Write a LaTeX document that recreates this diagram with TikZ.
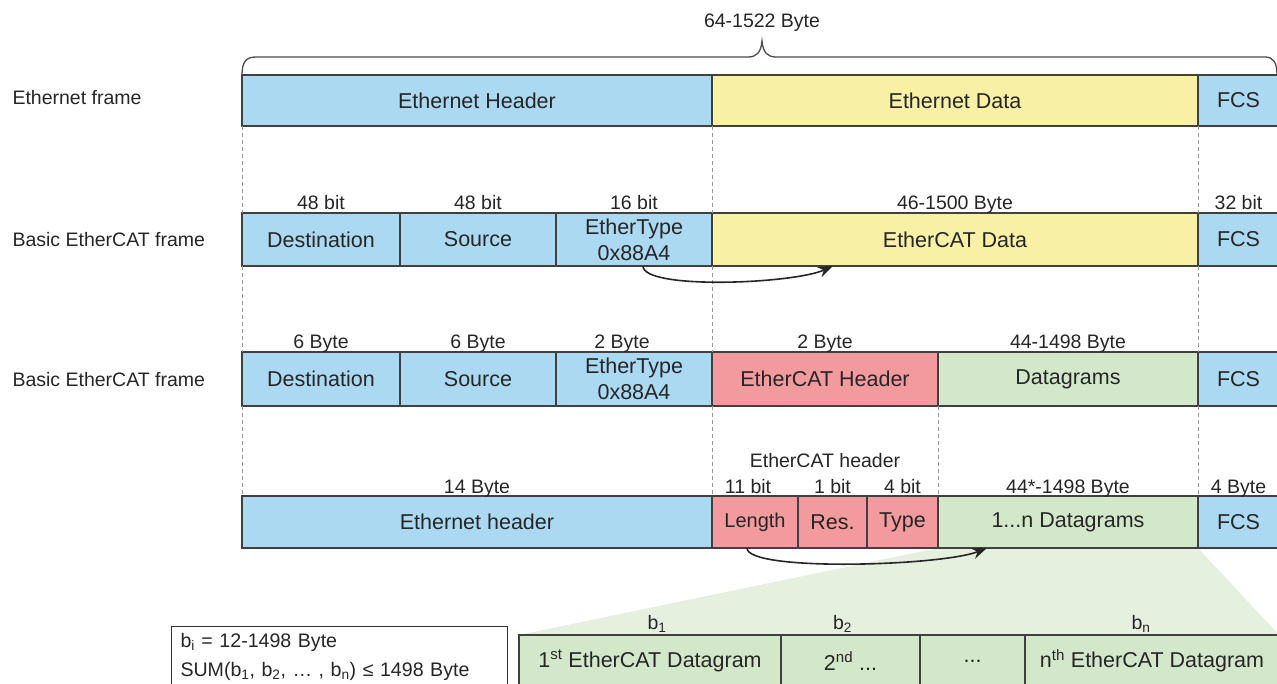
\documentclass[tikz,border=0pt]{standalone}
\usepackage{fontspec}
\setmainfont{Liberation Sans}
\usepackage{tikz}
\usetikzlibrary{arrows.meta,backgrounds}

\definecolor{hdrblue}{HTML}{ACD9F2}
\definecolor{datayellow}{HTML}{F7F0A5}
\definecolor{ecatred}{HTML}{F29A9D}
\definecolor{dgrgreen}{HTML}{D3E8CB}
\definecolor{zoomgreen}{HTML}{E5F0DF}
\definecolor{edgegray}{HTML}{404040}

\newcommand{\fldfont}{\fontsize{21.5}{26}\selectfont}
\newcommand{\smfont}{\fontsize{20}{22}\selectfont}
\newcommand{\lblfont}{\fontsize{19.5}{21}\selectfont}
\newcommand{\notefont}{\fontsize{19.6}{29}\selectfont}

\tikzset{
  fld/.style={draw=edgegray, line width=1.3pt, anchor=north west, inner sep=0pt,
    outer sep=0pt, align=center, font=\fldfont, text=black!85},
  lbl/.style={anchor=base, yshift=3pt, font=\lblfont, text=black!85},
  rowlbl/.style={anchor=west, font=\lblfont, text=black!85},
  guide/.style={draw=gray!80, line width=0.8pt, dash pattern=on 4pt off 3pt},
  flow/.style={draw=black!85, line width=1.6pt, -{Stealth[length=15pt,width=11pt]}},
  notebox/.style={draw=black!80, line width=1pt, fill=white, anchor=north west,
    align=left, text width=318pt, inner xsep=9pt, inner ysep=7pt, font=\notefont,
    text=black!85}
}

\begin{document}
\begin{tikzpicture}[x=1pt, y=-1pt]
  \useasboundingbox (0,0) rectangle (1277,684);
  \clip (0,0) rectangle (1277,684);

  \node[rowlbl] (lab1) at (9,98) {Ethernet frame};
  \node[rowlbl] (lab2) at (9,240) {Basic EtherCAT frame};
  \node[rowlbl] (lab3) at (9,380) {Basic EtherCAT frame};

  \node[fld, fill=hdrblue, minimum width=470pt, minimum height=51pt] (hdr1) at (242,75) {Ethernet Header};
  \node[fld, fill=datayellow, minimum width=486pt, minimum height=51pt] (dat1) at (712,75) {Ethernet Data};
  \node[fld, fill=hdrblue, minimum width=81pt, minimum height=51pt] (fcs1) at (1198,75) {FCS};

  \node[fld, fill=hdrblue, minimum width=158pt, minimum height=53pt] (dst2) at (242,213) {Destination};
  \node[fld, fill=hdrblue, minimum width=156pt, minimum height=53pt] (src2) at (400,213) {Source};
  \node[fld, fill=hdrblue, minimum width=156pt, minimum height=53pt] (type2) at (556,213) {EtherType\\0x88A4};
  \node[fld, fill=datayellow, minimum width=486pt, minimum height=53pt] (data2) at (712,213) {EtherCAT Data};
  \node[fld, fill=hdrblue, minimum width=81pt, minimum height=53pt] (fcs2) at (1198,213) {FCS};

  \node[fld, fill=hdrblue, minimum width=158pt, minimum height=54pt] (dst3) at (242,352) {Destination};
  \node[fld, fill=hdrblue, minimum width=156pt, minimum height=54pt] (src3) at (400,352) {Source};
  \node[fld, fill=hdrblue, minimum width=156pt, minimum height=54pt] (type3) at (556,352) {EtherType\\0x88A4};
  \node[fld, fill=ecatred, minimum width=226pt, minimum height=54pt] (ech3) at (712,352) {EtherCAT Header};
  \node[fld, fill=dgrgreen, minimum width=260pt, minimum height=54pt] (dgr3) at (938,352) {Datagrams};
  \node[fld, fill=hdrblue, minimum width=81pt, minimum height=54pt] (fcs3) at (1198,352) {FCS};

  \node[fld, fill=hdrblue, minimum width=470pt, minimum height=52pt] (eth4) at (242,496) {Ethernet header};
  \node[fld, fill=ecatred, minimum width=86pt, minimum height=52pt, font=\smfont] (len4) at (712,496) {Length};
  \node[fld, fill=ecatred, minimum width=69pt, minimum height=52pt] (res4) at (798,496) {Res.};
  \node[fld, fill=ecatred, minimum width=71pt, minimum height=52pt] (typ4) at (867,496) {Type};
  \node[fld, fill=dgrgreen, minimum width=260pt, minimum height=52pt] (dgr4) at (938,496) {1...n Datagrams};
  \node[fld, fill=hdrblue, minimum width=81pt, minimum height=52pt] (fcs4) at (1198,496) {FCS};

  \node[fld, fill=dgrgreen, minimum width=262pt, minimum height=52pt] (d15) at (519,635) {1\textsuperscript{st} EtherCAT Datagram};
  \node[fld, fill=dgrgreen, minimum width=139pt, minimum height=52pt] (d25) at (781,635) {2\textsuperscript{nd} ...};
  \node[fld, fill=dgrgreen, minimum width=105pt, minimum height=52pt] (d35) at (920,635) {...};
  \node[fld, fill=dgrgreen, minimum width=254pt, minimum height=52pt] (dn5) at (1025,635) {n\textsuperscript{th} EtherCAT Datagram};

  \node[notebox] (note) at (171,626) {b\textsubscript{i} = 12-1498 Byte\\SUM(b\textsubscript{1}, b\textsubscript{2}, … , b\textsubscript{n}) ≤ 1498 Byte};

  \begin{scope}[on background layer]
    \fill[zoomgreen] (dgr4.south west) -- (dgr4.south east) -- (dn5.north east) -- (d15.north west) -- cycle;
  \end{scope}

  \foreach \a/\b in {hdr1.south west/dst2.north west, dst2.south west/dst3.north west,
      dst3.south west/eth4.north west, hdr1.south east/type2.north east,
      type2.south east/type3.north east, type3.south east/eth4.north east,
      dat1.south east/data2.north east, data2.south east/dgr3.north east,
      dgr3.south east/dgr4.north east, ech3.south east/typ4.north east}
    \draw[guide] (\a) -- (\b);

  \draw[draw=black!70, line width=1.3pt] (hdr1.north west) .. controls (242,62) and (246,57) .. (256,57)
    -- (748,57) .. controls (756,57) and (761,53) .. (762,41) .. controls (763,53) and (768,57) .. (776,57)
    -- (1265,57) .. controls (1273,57) and (1277,62) .. (1277,75);
  \node[lbl] (total) at (762,31) {64-1522 Byte};

  \node[lbl] at (dst2.north) {48 bit};
  \node[lbl] at (src2.north) {48 bit};
  \node[lbl] at (type2.north) {16 bit};
  \node[lbl] at (data2.north) {46-1500 Byte};
  \node[lbl] at (fcs2.north) {32 bit};

  \node[lbl] at (dst3.north) {6 Byte};
  \node[lbl] at (src3.north) {6 Byte};
  \node[lbl, xshift=-12pt] at (type3.north) {2 Byte};
  \node[lbl] at (ech3.north) {2 Byte};
  \node[lbl] at (dgr3.north) {44-1498 Byte};

  \node[lbl] (echlbl) at (825,470) {EtherCAT header};
  \node[lbl] at (eth4.north) {14 Byte};
  \node[lbl, xshift=-7pt] at (len4.north) {11 bit};
  \node[lbl] at (res4.north) {1 bit};
  \node[lbl] at (typ4.north) {4 bit};
  \node[lbl] at (dgr4.north) {44*-1498 Byte};
  \node[lbl] at (fcs4.north) {4 Byte};

  \node[lbl, yshift=3pt, xshift=7pt] at (d15.north) {b\textsubscript{1}};
  \node[lbl, yshift=3pt, xshift=-8pt] at (d25.north) {b\textsubscript{2}};
  \node[lbl, yshift=3pt, xshift=-11pt] at (dn5.north) {b\textsubscript{n}};

  \draw[flow] ([xshift=9pt]type2.south) .. controls +(0,24) and +(-40,18) .. ([xshift=121pt]data2.south west);
  \draw[flow] ([xshift=-8pt]len4.south) .. controls +(0,24) and +(-45,18) .. ([xshift=49pt]dgr4.south west);
\end{tikzpicture}
\end{document}
